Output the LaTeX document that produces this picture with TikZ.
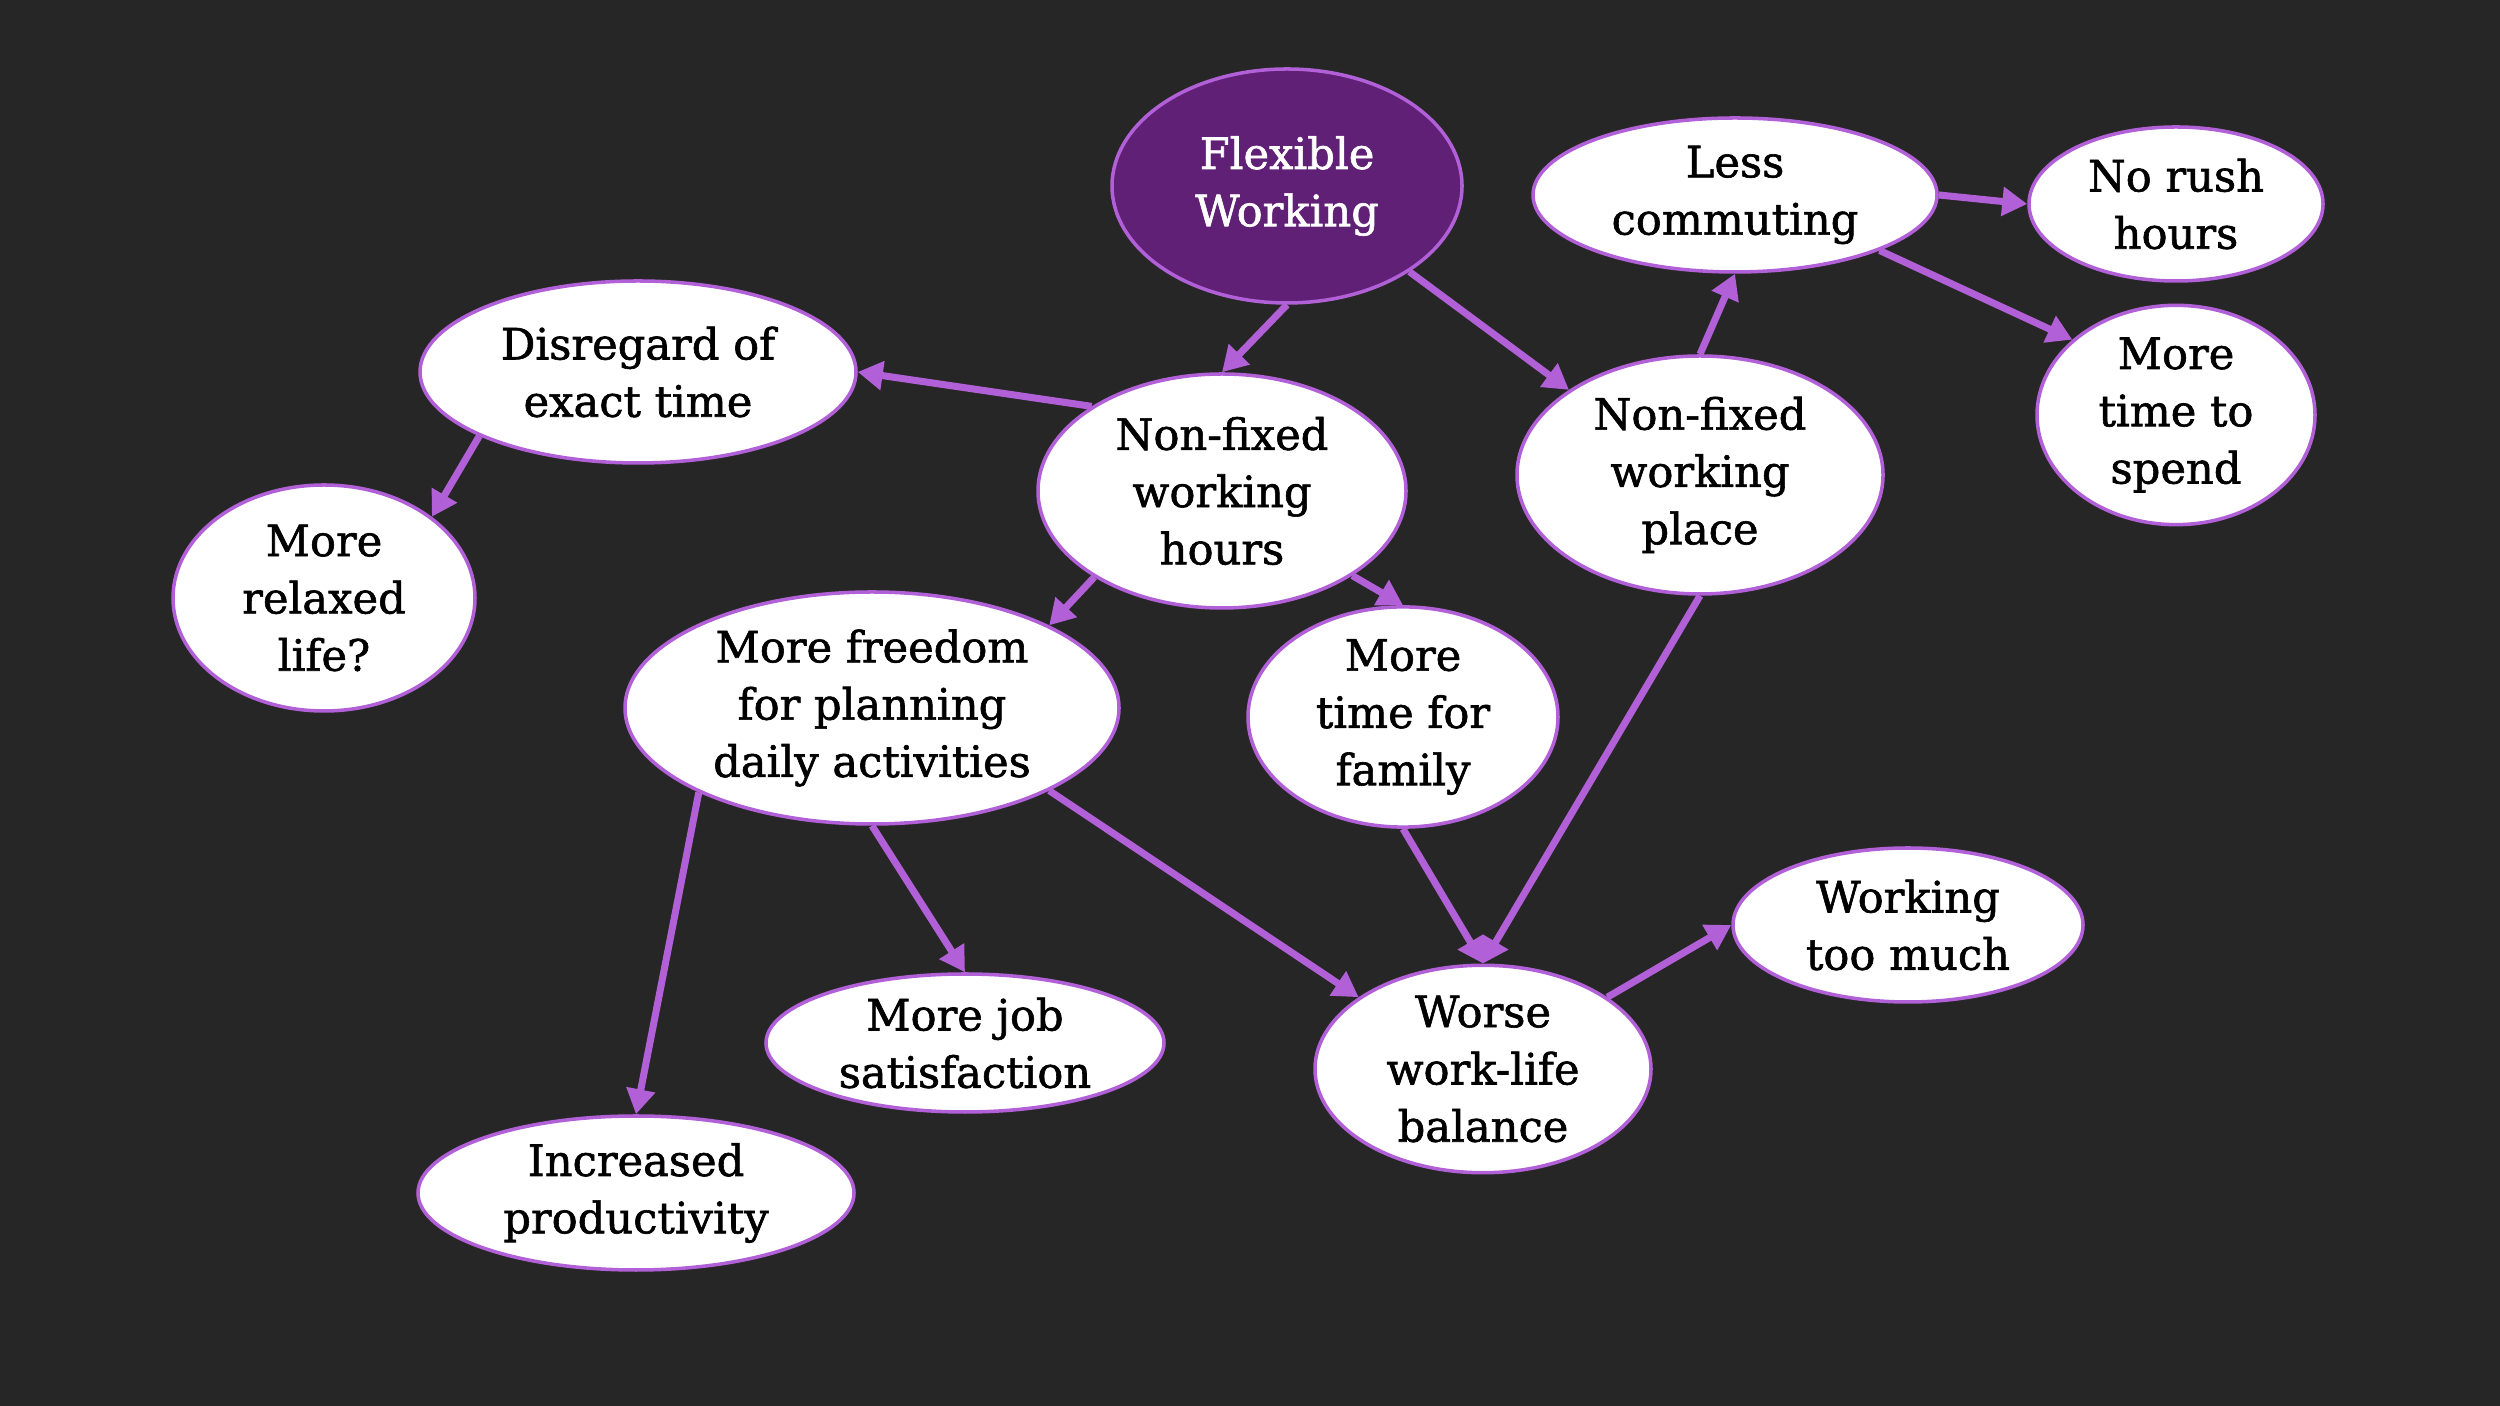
\documentclass[tikz,border=0pt]{standalone}
\usepackage{fontspec}
\setmainfont{DejaVu Serif}[FakeBold=1.4]
\usetikzlibrary{shapes.geometric,arrows.meta}
\definecolor{bgdark}{RGB}{38,38,38}
\definecolor{rootpurple}{RGB}{96,32,118}
\definecolor{linkpurple}{RGB}{178,96,216}
\tikzset{
  idea/.style={ellipse,draw=linkpurple,fill=white,line width=1pt,inner sep=0pt,align=center,font=\fontsize{12.3}{16.3}\selectfont},
  rootidea/.style={idea,fill=rootpurple,text=white},
  link/.style={draw=linkpurple,line width=2pt,-{Triangle[length=0.25cm,width=0.28cm]}}
}
\begin{document}
\begin{tikzpicture}
    \fill[bgdark] (0,0) rectangle (25,14.06);
    \useasboundingbox (0,0) rectangle (25,14.06);
    \node[rootidea,minimum width=3.5cm,minimum height=2.34cm] (fw) at (12.87,12.20) {Flexible\\Working};
    \node[idea,minimum width=4.04cm,minimum height=1.54cm] (less) at (17.35,12.11) {Less\\commuting};
    \node[idea,minimum width=2.94cm,minimum height=1.54cm] (rush) at (21.76,12.02) {No rush\\hours};
    \node[idea,minimum width=2.78cm,minimum height=1.98cm] (spend) at (21.76,9.91) {More\\time to\\spend};
    \node[idea,minimum width=4.36cm,minimum height=1.82cm] (disr) at (6.38,10.34) {Disregard of\\exact time};
    \node[idea,minimum width=3.68cm,minimum height=2.34cm] (hours) at (12.22,9.15) {Non-fixed\\working\\hours};
    \node[idea,minimum width=3.66cm,minimum height=2.38cm] (place) at (17.00,9.31) {Non-fixed\\working\\place};
    \node[idea,minimum width=3.02cm,minimum height=2.26cm] (relax) at (3.24,8.08) {More\\relaxed\\life?};
    \node[idea,minimum width=4.94cm,minimum height=2.32cm] (free) at (8.72,6.98) {More freedom\\for planning\\daily activities};
    \node[idea,minimum width=3.10cm,minimum height=1.98cm] (fam) at (14.03,6.89) {More\\time for\\family};
    \node[idea,minimum width=3.50cm,minimum height=1.54cm] (much) at (19.08,4.81) {Working\\too much};
    \node[idea,minimum width=3.36cm,minimum height=1.94cm] (worse) at (14.83,3.37) {Worse\\work-life\\balance};
    \node[idea,minimum width=3.98cm,minimum height=1.38cm] (job) at (9.65,3.63) {More job\\satisfaction};
    \node[idea,minimum width=4.36cm,minimum height=1.54cm] (prod) at (6.36,2.13) {Increased\\productivity};
    \draw[link] (fw.south)--(hours.north); \draw[link] (fw.-35)--(place.147);
    \draw[link] (hours.147)--(disr.east); \draw[link] (disr.-158)--(relax.37);
    \draw[link] (hours.-146)--(free.25); \draw[link] (hours.-33)--(fam.north);
    \draw[link] (place.north)--(less.south); \draw[link] (less.east)--(rush.west);
    \draw[link] (less.-21)--(spend.144); \draw[link] (place.south)--(worse.north);
    \draw[link] (fam.south)--(worse.north); \draw[link] (free.-25)--(worse.150);
    \draw[link] (free.south)--(job.north); \draw[link] (free.-154)--(prod.north);
    \draw[link] (worse.30)--(much.west);
  \end{tikzpicture}
\end{document}
